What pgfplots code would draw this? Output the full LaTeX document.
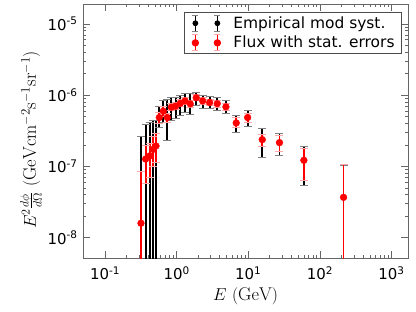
\documentclass[border=0pt]{standalone}
\usepackage{pgfplots}
\pgfplotsset{compat=1.18}
\usepackage{pgfplotstable}
\usepackage{fontspec}
\newfontfamily\dejavu{DejaVu Sans}

% central values
\pgfplotstableread{
x      y
0.318  1.6e-8
0.369  1.27e-7
0.425  1.41e-7
0.472  1.74e-7
0.515  1.94e-7
0.573  4.86e-7
0.652  5.96e-7
0.741  4.86e-7
0.843  6.78e-7
0.969  7.0e-7
1.125  7.7e-7
1.31   8.3e-7
1.55   7.55e-7
1.88   9.2e-7
2.31   8.3e-7
2.89   7.9e-7
3.69   7.6e-7
4.88   6.86e-7
6.8    4.08e-7
9.8    4.86e-7
15.7   2.38e-7
27.3   2.16e-7
59.8   1.22e-7
214    3.69e-8
}\data

% systematic error bars: lower and upper ends, one bar per pair
\pgfplotstableread{
x      y
0.318  1e-9
0.318  2.65e-7
nan    nan
0.369  1e-9
0.369  3.9e-7
nan    nan
0.425  1e-9
0.425  4.1e-7
nan    nan
0.472  1e-9
0.472  4.36e-7
nan    nan
0.515  1e-9
0.515  4.4e-7
nan    nan
0.573  3.5e-7
0.573  7.0e-7
nan    nan
0.652  4.1e-7
0.652  8.5e-7
nan    nan
0.741  2.3e-7
0.741  8.8e-7
nan    nan
0.843  4.4e-7
0.843  9.3e-7
nan    nan
0.969  4.7e-7
0.969  9.3e-7
nan    nan
1.125  5.2e-7
1.125  1.0e-6
nan    nan
1.31   5.8e-7
1.31   1.07e-6
nan    nan
1.55   5.4e-7
1.55   1.05e-6
nan    nan
1.88   7.2e-7
1.88   1.1e-6
nan    nan
2.31   6.4e-7
2.31   1.0e-6
nan    nan
2.89   6.4e-7
2.89   9.5e-7
nan    nan
3.69   6.1e-7
3.69   9.3e-7
nan    nan
4.88   5.5e-7
4.88   8.4e-7
nan    nan
6.8    3.0e-7
6.8    5.2e-7
nan    nan
9.8    3.6e-7
9.8    6.1e-7
nan    nan
15.7   1.32e-7
15.7   3.45e-7
nan    nan
27.3   1.44e-7
27.3   2.89e-7
nan    nan
59.8   5.4e-8
59.8   1.88e-7
nan    nan
214    1e-9
214    1.03e-7
}\syst

% statistical error bars
\pgfplotstableread{
x      y
0.318  1e-9
0.318  8.4e-8
nan    nan
0.369  5.7e-8
0.369  1.95e-7
nan    nan
0.425  7.0e-8
0.425  2.1e-7
nan    nan
0.472  1.0e-7
0.472  2.6e-7
nan    nan
0.515  1.15e-7
0.515  2.9e-7
nan    nan
0.573  4.0e-7
0.573  5.8e-7
nan    nan
0.652  5.0e-7
0.652  7.0e-7
nan    nan
0.741  4.2e-7
0.741  5.6e-7
nan    nan
0.843  6.0e-7
0.843  7.6e-7
nan    nan
0.969  6.2e-7
0.969  7.8e-7
nan    nan
1.125  6.9e-7
1.125  8.6e-7
nan    nan
1.31   7.4e-7
1.31   9.3e-7
nan    nan
1.55   6.8e-7
1.55   8.4e-7
nan    nan
1.88   8.3e-7
1.88   1.02e-6
nan    nan
2.31   7.5e-7
2.31   9.2e-7
nan    nan
2.89   7.1e-7
2.89   8.8e-7
nan    nan
3.69   6.8e-7
3.69   8.5e-7
nan    nan
4.88   6.1e-7
4.88   7.7e-7
nan    nan
6.8    3.5e-7
6.8    4.8e-7
nan    nan
9.8    4.2e-7
9.8    5.6e-7
nan    nan
15.7   1.88e-7
15.7   2.8e-7
nan    nan
27.3   1.6e-7
27.3   2.7e-7
nan    nan
59.8   6.4e-8
59.8   1.8e-7
nan    nan
214    1e-9
214    1.06e-7
}\stat

\begin{document}
\begin{tikzpicture}
\begin{axis}[
  name=ax,
  scale only axis,
  width=325bp, height=254bp,
  xmode=log, ymode=log,
  xmin=0.0493, xmax=1700,
  ymin=5.2e-9, ymax=1.9e-5,
  clip marker paths=true,
  unbounded coords=jump,
  axis line style={black!60, line width=0.9pt},
  tick style={black!60, line width=0.7pt},
  tick align=inside,
  major tick length=7bp,
  minor tick length=3.5bp,
  xtick={0.1,1,10,100,1000},
  xticklabels={{10\textsuperscript{-1}},{10\textsuperscript{0}},{10\textsuperscript{1}},{10\textsuperscript{2}},{10\textsuperscript{3}}},
  ytick={1e-8,1e-7,1e-6,1e-5},
  yticklabels={{10\textsuperscript{-8}},{10\textsuperscript{-7}},{10\textsuperscript{-6}},{10\textsuperscript{-5}}},
  ticklabel style={font=\dejavu\fontsize{15}{17}\selectfont},
  xticklabel style={yshift=-5bp},
  yticklabel style={xshift=-2bp},
  xlabel={$E$ $(\mathrm{GeV})$},
  ylabel={$E^2\frac{d\phi}{d\Omega}$ $(\mathrm{GeV cm^{-2} s^{-1} sr^{-1}})$},
  label style={font=\fontsize{18.5}{21}\selectfont},
  xlabel style={yshift=-1bp},
  ylabel style={yshift=-1bp, xshift=-9bp},
  legend cell align=left,
  legend style={at={(1,1)}, anchor=north east, xshift=-6bp, yshift=-8bp,
    font=\dejavu\fontsize{15.5}{18}\selectfont, draw=black!70, line width=0.9pt,
    inner xsep=3bp, inner ysep=2bp, row sep=2bp,
    nodes={inner xsep=4bp, inner ysep=2bp}},
]
\addlegendimage{legend image code/.code={
    \path[draw=none,fill=none] (0bp,-8bp) rectangle (42bp,8bp);
    \draw[black,line width=1.6pt] (8bp,-8bp)--(8bp,8bp);
    \draw[black!50,line width=1pt] (5bp,-8bp)--(11bp,-8bp);
    \draw[black!50,line width=1pt] (5bp,8bp)--(11bp,8bp);
    \fill[black] (8bp,0bp) circle (2.4bp);
    \draw[black,line width=1.6pt] (30bp,-8bp)--(30bp,8bp);
    \draw[black!50,line width=1pt] (27bp,-8bp)--(33bp,-8bp);
    \draw[black!50,line width=1pt] (27bp,8bp)--(33bp,8bp);
    \fill[black] (30bp,0bp) circle (2.4bp);
}}
\addlegendentry{Empirical mod syst.}
\addlegendimage{legend image code/.code={
    \path[draw=none,fill=none] (0bp,-8bp) rectangle (42bp,8bp);
    \draw[red,line width=1.6pt] (8bp,-8bp)--(8bp,8bp);
    \draw[red!35,line width=1pt] (5bp,-8bp)--(11bp,-8bp);
    \draw[red!35,line width=1pt] (5bp,8bp)--(11bp,8bp);
    \fill[red] (8bp,0bp) circle (3.2bp);
    \draw[red,line width=1.6pt] (30bp,-8bp)--(30bp,8bp);
    \draw[red!35,line width=1pt] (27bp,-8bp)--(33bp,-8bp);
    \draw[red!35,line width=1pt] (27bp,8bp)--(33bp,8bp);
    \fill[red] (30bp,0bp) circle (3.2bp);
}}
\addlegendentry{Flux with stat. errors}

% systematic bars (black) with grey caps
\addplot[black, line width=1.8bp, mark=-, mark size=4bp,
  mark options={draw=black!50, line width=1bp}] table {\syst};
\addplot[only marks, mark=*, mark size=2.4bp, black] table {\data};
% statistical bars (red) with pink caps
\addplot[red, line width=1.8bp, mark=-, mark size=4bp,
  mark options={draw=red!35, line width=1bp}] table {\stat};
\addplot[only marks, mark=*, mark size=3.4bp, red] table {\data};
\end{axis}
\pgfresetboundingbox
\path[use as bounding box] ([shift={(-83bp,-54bp)}]ax.south west) rectangle ([shift={(8bp,4bp)}]ax.north east);
\end{tikzpicture}
\end{document}
